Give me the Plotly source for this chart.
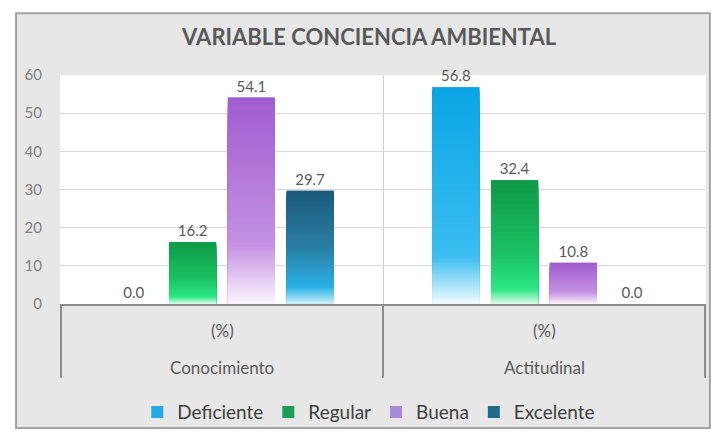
import plotly.graph_objects as go

# data
dimensions = ["Conocimiento", "Actitudinal"]
unit_row = ["(%)", "(%)"]
levels = ["Deficiente", "Regular", "Buena", "Excelente"]
deficiente = [0.0, 56.8]
regular = [16.2, 32.4]
buena = [54.1, 10.8]
excelente = [29.7, 0.0]
series = [deficiente, regular, buena, excelente]

# gradient stops, top of bar (0) to bottom of bar (1)
gradients = [
    [(0, "#0aa5e5"), (0.78, "#3abdf0"), (1, "#f2fbff")],
    [(0, "#0e9a48"), (0.6, "#1cc264"), (0.88, "#2ae882"), (1, "#dcfbe8")],
    [(0, "#a05ccf"), (0.72, "#c592e3"), (1, "#fcf6fe")],
    [(0, "#1b5a7c"), (0.5, "#2a7ea3"), (0.85, "#2ab0e6"), (1, "#cdf1fc")],
]
legend_colors = ["#24a9e3", "#1a9f55", "#a98ad8", "#1f6b8c"]
steps = 90
font = "Lato"
grey = "#595959"


def hex_rgb(h):
    h = h.lstrip("#")
    return tuple(int(h[i:i + 2], 16) for i in (0, 2, 4))


def grad_color(stops, t):
    for (t0, c0), (t1, c1) in zip(stops[:-1], stops[1:]):
        if t0 <= t <= t1:
            f = (t - t0) / (t1 - t0)
            a, b = hex_rgb(c0), hex_rgb(c1)
            return "rgb(%d,%d,%d)" % tuple(round(a[i] + (b[i] - a[i]) * f) for i in range(3))
    return stops[-1][1]


fig = go.Figure()

for n, (name, vals) in enumerate(zip(levels, series)):
    fig.add_trace(go.Bar(x=dimensions, y=vals, name=name, offsetgroup=str(n),
                         marker=dict(color=legend_colors[n], line=dict(width=0)),
                         text=[f"{v:.1f}" for v in vals], textposition="outside",
                         textfont=dict(family=font, size=15, color=grey),
                         cliponaxis=False))
    # vertical gradient drawn as shrinking overlays in the same slot
    for k in range(steps):
        frac = 1 - k / steps
        fig.add_trace(go.Bar(x=dimensions, y=[v * frac for v in vals], offsetgroup=str(n),
                             marker=dict(color=grad_color(gradients[n], (k + 0.5) / steps), line=dict(width=0)),
                             showlegend=False, hoverinfo="skip", textposition="none"))

# chart frame, then white plot area on top of it
fig.add_shape(type="rect", xref="paper", yref="paper", x0=-0.068, x1=1.006, y0=-0.541, y1=1.27,
              fillcolor="#e7e7e7", line=dict(color="#a3a3a3", width=2), layer="below")
fig.add_shape(type="rect", xref="x domain", yref="y domain", x0=0, x1=1, y0=0, y1=1,
              fillcolor="white", line=dict(width=0), layer="below")

# category axis box: dividers + two label rows
for b in [-0.5, 0.5, 1.5]:
    fig.add_shape(type="line", xref="x", yref="paper", x0=b, x1=b, y0=0, y1=-0.322,
                  line=dict(color="#8c8c8c", width=2))
for d, u in zip(dimensions, unit_row):
    fig.add_annotation(x=d, xref="x", y=-0.116, yref="paper", text=u, showarrow=False,
                       font=dict(family=font, size=17, color=grey), yanchor="middle")
    fig.add_annotation(x=d, xref="x", y=-0.279, yref="paper", text=d, showarrow=False,
                       font=dict(family=font, size=17, color=grey), yanchor="middle")

fig.update_layout(
    width=714, height=439,
    margin=dict(l=60, r=8, t=75, b=131),
    paper_bgcolor="white", plot_bgcolor="white",
    barmode="group", bargap=0.27, bargroupgap=0.2,
    title=dict(text="<b>VARIABLE CONCIENCIA AMBIENTAL</b>", x=0.517, xanchor="center",
               y=0.916, yanchor="middle", font=dict(family=font, size=22, color=grey)),
    legend=dict(orientation="h", x=0.478, xanchor="center", y=-0.472, yanchor="middle",
                font=dict(family=font, size=19, color="#404040"), bgcolor="rgba(0,0,0,0)",
                traceorder="normal"),
    showlegend=True,
)
fig.update_yaxes(range=[0, 60], dtick=10, showgrid=True, gridcolor="#d9d9d9", gridwidth=1,
                 zeroline=False, showline=False, ticklabelstandoff=17,
                 tickfont=dict(family=font, size=15, color="#7f7f7f"))
fig.update_xaxes(showgrid=True, gridcolor="#cfcfcf", tickson="boundaries",
                 showline=True, linecolor="#8c8c8c", linewidth=2, ticks="",
                 showticklabels=False)

fig.write_html("out.html", config={"displayModeBar": False},
               post_script="document.body.style.margin='0';")
